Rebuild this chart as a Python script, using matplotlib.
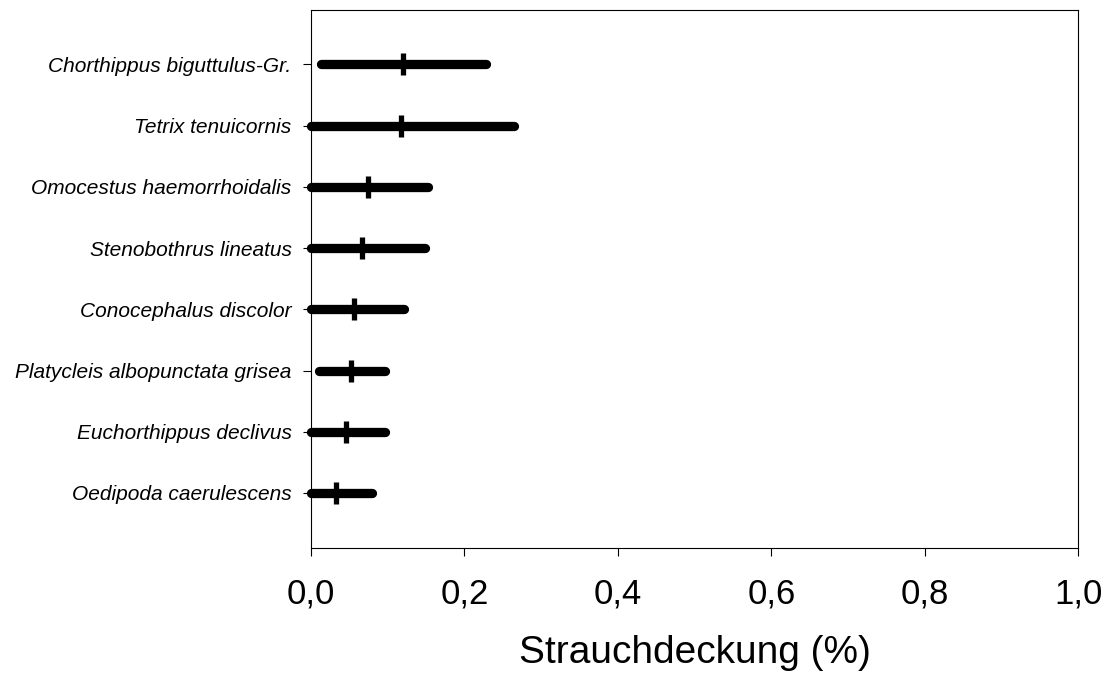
import matplotlib.pyplot as plt

plt.rcParams['font.family'] = ['Liberation Sans', 'DejaVu Sans']

# Arten (von oben nach unten) und Werte der Strauchdeckung
species = [
    "Chorthippus biguttulus-Gr.",
    "Tetrix tenuicornis",
    "Omocestus haemorrhoidalis",
    "Stenobothrus lineatus",
    "Conocephalus discolor",
    "Platycleis albopunctata grisea",
    "Euchorthippus declivus",
    "Oedipoda caerulescens",
]
low = [0.013, 0.0, 0.0, 0.0, 0.0, 0.010, 0.0, 0.0]
high = [0.228, 0.265, 0.153, 0.148, 0.121, 0.096, 0.096, 0.080]
median = [0.120, 0.117, 0.074, 0.067, 0.056, 0.052, 0.046, 0.033]
xticks = [0.0, 0.2, 0.4, 0.6, 0.8, 1.0]
xticklabels = ["0,0", "0,2", "0,4", "0,6", "0,8", "1,0"]

fig = plt.figure(figsize=(11.11, 6.75), dpi=100)
ax = fig.add_axes([0.2799, 0.1881, 0.6908, 0.7971])

n = len(species)
ypos = [n - i for i in range(n)]

# Spannweite als dicke Linie, Median als senkrechter Strich
for y, lo, hi in zip(ypos, low, high):
    ax.plot([lo, hi], [y, y], color='black', lw=6.7,
            solid_capstyle='round', clip_on=False, zorder=3)
ax.plot(median, ypos, ls='none', marker='|', ms=16.3, mew=3.8,
        color='black', clip_on=False, zorder=4)

ax.set_xlim(0, 1)
ax.set_ylim(0.1, 8.89)
ax.set_xticks(xticks)
ax.set_xticklabels(xticklabels, fontsize=25)
ax.set_yticks(ypos)
ax.set_yticklabels(species, fontsize=15, style='italic')
ax.tick_params(axis='x', direction='out', length=6, width=0.8, pad=15)
ax.tick_params(axis='y', direction='out', length=5.5, width=0.8, pad=8.5)
ax.set_xlabel("Strauchdeckung (%)", fontsize=28, labelpad=18)

for s in ax.spines.values():
    s.set_linewidth(0.8)
    s.set_color('black')

fig.savefig("out.png", dpi=100)
